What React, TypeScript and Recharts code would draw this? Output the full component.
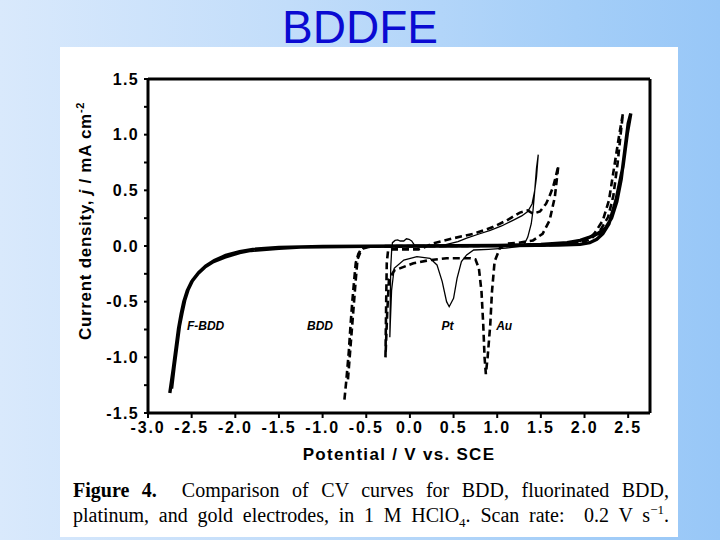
import React from 'react';
import { LineChart, Line, XAxis, YAxis, ReferenceLine, ReferenceDot } from 'recharts';

// Tick values
const xTicks = [-3.0, -2.5, -2.0, -1.5, -1.0, -0.5, 0.0, 0.5, 1.0, 1.5, 2.0, 2.5];
const yTicks = [-1.5, -1.25, -1.0, -0.75, -0.5, -0.25, 0.0, 0.25, 0.5, 0.75, 1.0, 1.25, 1.5];

// F-BDD (solid, thick)
const fbddPotential = [
  -2.75, -2.71, -2.68, -2.65, -2.62, -2.59, -2.55, -2.50, -2.43, -2.35, -2.25, -2.12, -1.95, -1.82, -1.5, -1.25,
  -0.5, 0.5, 1.2, 1.7, 1.95, 2.06, 2.14, 2.21, 2.28, 2.36, 2.44, 2.49, 2.53,
  2.50, 2.46, 2.42, 2.37, 2.31, 2.24, 2.15, 2.06, 1.95, 1.8, 1.5, 1.0, 0.0,
  -1.0, -1.5, -1.8, -1.95, -2.11, -2.24, -2.34, -2.42, -2.49, -2.54, -2.58, -2.61, -2.64, -2.67, -2.70, -2.73,
];
const fbddCurrent = [
  -1.32, -1.10, -0.92, -0.74, -0.61, -0.50, -0.40, -0.32, -0.25, -0.19, -0.14, -0.10, -0.06, -0.04, -0.02, -0.01,
  -0.003, 0.0, 0.003, 0.008, 0.015, 0.03, 0.06, 0.11, 0.20, 0.41, 0.71, 1.01, 1.19,
  1.10, 0.85, 0.60, 0.40, 0.25, 0.16, 0.11, 0.08, 0.05, 0.03, 0.015, 0.005, 0.0,
  -0.005, -0.012, -0.03, -0.05, -0.085, -0.13, -0.18, -0.24, -0.31, -0.39, -0.49, -0.60, -0.72, -0.90, -1.08, -1.28,
];

// BDD (dashed)
const bddPotential = [
  -0.75, -0.73, -0.70, -0.68, -0.66, -0.64, -0.62, -0.59, -0.56, -0.50, -0.3, 0.5, 1.5, 1.95, 2.05, 2.12, 2.21, 2.28, 2.34, 2.40, 2.44,
  2.42, 2.38, 2.33, 2.27, 2.18, 2.08, 1.95, 1.6, 0.5, -0.45, -0.53, -0.57, -0.60, -0.62, -0.65, -0.68, -0.71,
];
const bddCurrent = [
  -1.38, -1.22, -0.95, -0.71, -0.50, -0.32, -0.15, -0.07, -0.03, -0.01, 0.0, 0.0, 0.005, 0.02, 0.06, 0.12, 0.23, 0.41, 0.71, 1.01, 1.19,
  1.05, 0.75, 0.45, 0.26, 0.14, 0.07, 0.03, 0.01, 0.0, -0.005, -0.02, -0.06, -0.12, -0.30, -0.60, -0.90, -1.20,
];

// Pt (thin solid)
const ptPotential = [
  -0.23, -0.225, -0.22, -0.21, -0.20, -0.17, -0.14, -0.11, -0.07, -0.04, -0.01, 0.02, 0.05, 0.15, 0.4, 0.55, 0.65, 0.8, 0.92, 1.05, 1.18, 1.28, 1.35, 1.40, 1.43, 1.45, 1.47,
  1.45, 1.43, 1.41, 1.39, 1.35, 1.30, 1.1, 0.9, 0.73, 0.65, 0.59, 0.54, 0.50, 0.45, 0.42, 0.37, 0.31, 0.23, 0.08, -0.07, -0.18, -0.21, -0.225, -0.23,
];
const ptCurrent = [
  -0.82, -0.50, -0.20, -0.05, 0.03, 0.05, 0.055, 0.045, 0.045, 0.065, 0.06, 0.045, 0.01, 0.0, 0.01, 0.04, 0.07, 0.11, 0.14, 0.18, 0.23, 0.27, 0.31, 0.38, 0.50, 0.62, 0.82,
  0.70, 0.50, 0.32, 0.20, 0.08, 0.0, -0.02, -0.03, -0.036, -0.08, -0.14, -0.29, -0.47, -0.545, -0.50, -0.32, -0.17, -0.11, -0.096, -0.126, -0.20, -0.40, -0.70, -0.82,
];

// Au (dashed)
const auPotential = [
  -0.28, -0.275, -0.27, -0.265, -0.25, -0.2, 0.0, 0.1, 0.2, 0.25, 0.5, 0.73, 0.95, 1.11, 1.26, 1.35, 1.41, 1.49, 1.56, 1.60, 1.64, 1.67, 1.70,
  1.66, 1.60, 1.52, 1.41, 1.25, 1.10, 1.03, 0.97, 0.94, 0.92, 0.89, 0.87, 0.855, 0.84, 0.82, 0.79, 0.75, 0.69, 0.42, 0.23, 0.04, -0.18, -0.24, -0.26, -0.28,
];
const auCurrent = [
  -1.0, -0.70, -0.40, -0.15, -0.04, -0.03, -0.03, -0.03, 0.0, 0.02, 0.07, 0.11, 0.17, 0.23, 0.30, 0.32, 0.29, 0.31, 0.38, 0.45, 0.53, 0.62, 0.72,
  0.44, 0.23, 0.11, 0.05, 0.03, 0.02, -0.02, -0.14, -0.41, -0.71, -1.0, -1.15, -1.0, -0.71, -0.41, -0.20, -0.12, -0.11, -0.11, -0.126, -0.155, -0.22, -0.30, -0.60, -1.0,
];

// Curve labels
const curveLabels = ['F-BDD', 'BDD', 'Pt', 'Au'];
const labelPotential = [-2.34, -1.03, 0.43, 1.08];
const labelCurrent = [-0.72, -0.72, -0.72, -0.72];

const toPoints = (v: number[], j: number[]) => v.map((x, i) => ({ v: x, j: j[i] }));

const fbdd = toPoints(fbddPotential, fbddCurrent);
const bdd = toPoints(bddPotential, bddCurrent);
const pt = toPoints(ptPotential, ptCurrent);
const au = toPoints(auPotential, auCurrent);

const tickFont = {
  fill: '#000',
  fontSize: 16,
  fontWeight: 700,
  fontFamily: 'Liberation Sans, Arial, sans-serif',
  letterSpacing: 1.8,
};

const YTick = (props: any) => {
  const { x, y, payload } = props;
  const val = payload.value as number;
  const major = Math.abs(val * 2 - Math.round(val * 2)) < 1e-6;
  if (!major) return null;
  return (
    <text x={x} y={y} dy="0.36em" textAnchor="end" {...tickFont} letterSpacing={1.3}>
      {val.toFixed(1)}
    </text>
  );
};

const YLabel = (props: any) => {
  const vb = props.viewBox || { x: 88, y: 79, width: 60, height: 334 };
  const cx = vb.x + 3;
  const cy = vb.y + vb.height / 2 - 25;
  return (
    <text
      x={cx}
      y={cy}
      transform={`rotate(-90, ${cx}, ${cy})`}
      textAnchor="middle"
      fill="#000"
      fontSize={17}
      fontWeight={700}
      fontFamily="Liberation Sans, Arial, sans-serif"
      letterSpacing={0.7}
    >
      Current density, <tspan fontStyle="italic">j</tspan> / mA cm
      <tspan fontSize={11} dy={-7}>-2</tspan>
    </text>
  );
};

const XLabel = (props: any) => {
  const vb = props.viewBox || { x: 148, y: 413, width: 502, height: 30 };
  const cx = vb.x + vb.width / 2;
  return (
    <text
      x={cx}
      y={vb.y + 47}
      textAnchor="middle"
      fill="#000"
      fontSize={17}
      fontWeight={700}
      fontFamily="Liberation Sans, Arial, sans-serif"
      letterSpacing={1.3}
    >
      Potential / V vs. SCE
    </text>
  );
};

export default function App() {
  return (
    <div
      style={{
        position: 'absolute',
        left: 0,
        top: 0,
        width: 720,
        height: 540,
        overflow: 'hidden',
        background: 'linear-gradient(to right, #d9e9fc 0%, #c2ddfa 40%, #a4cef8 80%, #98c7f7 100%)',
      }}
    >
      <div
        style={{
          position: 'absolute',
          left: 0,
          width: 720,
          top: -1,
          textAlign: 'center',
          fontFamily: 'Liberation Sans, Arial, sans-serif',
          fontSize: 46,
          lineHeight: '56px',
          color: '#0a0ad2',
        }}
      >
        BDDFE
      </div>
      <div
        style={{
          position: 'absolute',
          left: 60,
          top: 47,
          width: 618,
          height: 490,
          background: '#fff',
        }}
      />
      <div style={{ position: 'absolute', left: 0, top: 0 }}>
        <LineChart width={720} height={540} margin={{ top: 79, right: 70, bottom: 97, left: 88 }}>
          <XAxis
            dataKey="v"
            type="number"
            domain={[-3, 2.75]}
            ticks={xTicks}
            interval={0}
            allowDataOverflow
            tickFormatter={(v: number) => v.toFixed(1)}
            axisLine={{ stroke: '#000', strokeWidth: 3 }}
            tickLine={{ stroke: '#000', strokeWidth: 2 }}
            tickSize={5}
            tickMargin={4}
            tick={tickFont}
            height={30}
            label={<XLabel />}
          />
          <YAxis
            dataKey="j"
            type="number"
            domain={[-1.5, 1.5]}
            ticks={yTicks}
            interval={0}
            allowDataOverflow
            width={60}
            axisLine={{ stroke: '#000', strokeWidth: 3 }}
            tickLine={{ stroke: '#000', strokeWidth: 2 }}
            tickSize={4}
            tickMargin={5}
            tick={<YTick />}
            label={<YLabel />}
          />
          <ReferenceLine y={1.5} stroke="#000" strokeWidth={3} />
          <ReferenceLine x={2.75} stroke="#000" strokeWidth={3} />
          <Line data={fbdd} dataKey="j" type="linear" stroke="#000" strokeWidth={3.4} dot={false} isAnimationActive={false} />
          <Line data={bdd} dataKey="j" type="linear" stroke="#000" strokeWidth={2.6} strokeDasharray="7 4" dot={false} isAnimationActive={false} />
          <Line data={pt} dataKey="j" type="linear" stroke="#000" strokeWidth={1.3} dot={false} isAnimationActive={false} />
          <Line data={au} dataKey="j" type="linear" stroke="#000" strokeWidth={2.6} strokeDasharray="7 4" dot={false} isAnimationActive={false} />
          {curveLabels.map((name, i) => (
            <ReferenceDot
              key={name}
              x={labelPotential[i]}
              y={labelCurrent[i]}
              r={1}
              fill="none"
              stroke="none"
              label={{
                value: name,
                position: 'center',
                fill: '#000',
                fontSize: 12,
                fontStyle: 'italic',
                fontWeight: 700,
                fontFamily: 'Liberation Sans, Arial, sans-serif',
              }}
            />
          ))}
        </LineChart>
      </div>
      <div
        style={{
          position: 'absolute',
          left: 73,
          top: 478,
          width: 596,
          fontFamily: 'Liberation Serif, Times New Roman, serif',
          fontSize: 20,
          lineHeight: '25px',
          color: '#000',
          textAlign: 'justify',
          textAlignLast: 'justify',
        }}
      >
        <div>
          <b>Figure 4.</b>&nbsp; Comparison of CV curves for BDD, fluorinated BDD,
        </div>
        <div>
          platinum, and gold electrodes, in 1 M HClO<sub style={{ fontSize: 13, lineHeight: 0 }}>4</sub>. Scan rate:&nbsp; 0.2 V s
          <sup style={{ fontSize: 13, lineHeight: 0 }}>−1</sup>.
        </div>
      </div>
    </div>
  );
}
